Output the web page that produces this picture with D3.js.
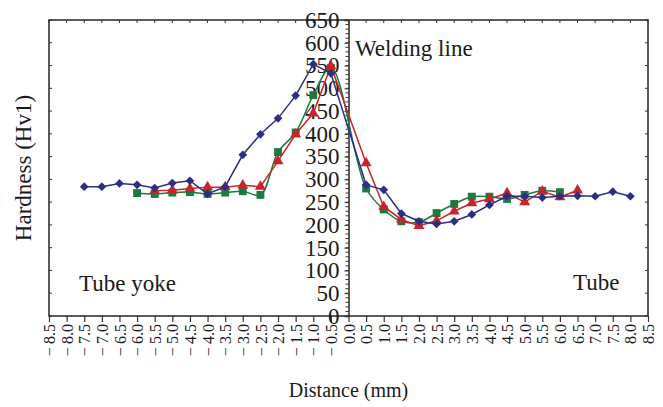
<!DOCTYPE html>
<html lang="en">
<head>
<meta charset="UTF-8">
<title>Hardness profile</title>
<style>
  body { margin: 0; background: #fff; }
  text { font-family: "Liberation Serif", "DejaVu Serif", serif; fill: #1a1a1a; }
</style>
</head>
<body>
<svg width="663" height="407"></svg>
<script src="https://cdn.jsdelivr.net/npm/d3@7"></script>
<script>
// distances (mm) and hardness values
var blueX = [-7.5,-7,-6.5,-6,-5.5,-5,-4.5,-4,-3.5,-3,-2.5,-2,-1.5,-1,-0.5,0.5,1,1.5,2,2.5,3,3.5,4,4.5,5,5.5,6,6.5,7,7.5,8];
var blueY = [284,284,291,288,281,292,297,268,284,354,399,434,484,553,533,288,277,225,208,202,208,223,244,263,263,260,263,264,263,273,263];

var redX = [-5.5,-5,-4.5,-4,-3.5,-3,-2.5,-2,-1.5,-1,-0.5,0.5,1,1.5,2,2.5,3,3.5,4,4.5,5,5.5,6,6.5];
var redY = [275,276,280,283,283,287,284,340,399,445,549,336,240,212,198,209,230,248,257,270,250,274,261,276];

var greenX = [-6,-5.5,-5,-4.5,-4,-3.5,-3,-2.5,-2,-1.5,-1,-0.5,0.5,1,1.5,2,2.5,3,3.5,4,4.5,5,5.5,6];
var greenY = [270,268,271,272,268,271,274,266,360,403,485,545,280,234,208,206,226,246,262,262,257,266,275,272];

var xTicks = d3.range(-8.5, 8.51, 0.5);
var yTicks = d3.range(0, 651, 50);

var svg = d3.select("svg");
var pLeft = 49, pRight = 648, pTop = 20, pBottom = 316;

var x = d3.scaleLinear().domain([-8.5, 8.5]).range([pLeft, pRight]);
var y = d3.scaleLinear().domain([0, 650]).range([pBottom, pTop]);

var ink = "#333";

// frame
svg.append("rect")
  .attr("x", pLeft).attr("y", pTop)
  .attr("width", pRight - pLeft).attr("height", pBottom - pTop)
  .attr("fill", "none").attr("stroke", ink).attr("stroke-width", 1.6);

// bottom axis
var xAxis = svg.append("g")
  .attr("transform", "translate(0," + pBottom + ")")
  .call(d3.axisBottom(x).tickValues(xTicks).tickSize(6).tickFormat(function (d) {
    var s = Math.abs(d).toFixed(1);
    return (d < -0.01 ? "\u2212\u2009" : "") + s;
  }));
xAxis.select(".domain").remove();
xAxis.selectAll("line").attr("stroke", ink).attr("stroke-width", 1.2);
xAxis.selectAll("text")
  .attr("font-family", "Liberation Serif")
  .attr("font-size", 16)
  .attr("fill", "#1a1a1a")
  .attr("text-anchor", "end")
  .attr("transform", "rotate(-90)")
  .attr("x", -8).attr("y", 0).attr("dy", "0.35em");

// top frame ticks
svg.append("g").selectAll("line").data(xTicks).join("line")
  .attr("x1", d => x(d)).attr("x2", d => x(d))
  .attr("y1", pTop).attr("y2", pTop + 3)
  .attr("stroke", ink).attr("stroke-width", 1);

// left / right frame ticks
svg.append("g").selectAll("line").data(yTicks).join("line")
  .attr("x1", pLeft).attr("x2", pLeft + 3)
  .attr("y1", d => y(d)).attr("y2", d => y(d))
  .attr("stroke", ink).attr("stroke-width", 1);
svg.append("g").selectAll("line").data(yTicks).join("line")
  .attr("x1", pRight - 3).attr("x2", pRight)
  .attr("y1", d => y(d)).attr("y2", d => y(d))
  .attr("stroke", ink).attr("stroke-width", 1);

// y axis at x = 0 with minor ticks
var x0 = x(0);
svg.append("g").selectAll("line").data(d3.range(0, 651, 10)).join("line")
  .attr("x1", x0 - 3).attr("x2", x0)
  .attr("y1", d => y(d)).attr("y2", d => y(d))
  .attr("stroke", ink).attr("stroke-width", 1);
var yAxis = svg.append("g")
  .attr("transform", "translate(" + x0 + ",0)")
  .call(d3.axisLeft(y).tickValues(yTicks).tickSize(4).tickPadding(5));
yAxis.select(".domain").attr("stroke", ink).attr("stroke-width", 1.6);
yAxis.selectAll("line").attr("stroke", ink);
yAxis.selectAll("text")
  .attr("font-family", "Liberation Serif")
  .attr("font-size", 23)
  .attr("fill", "#1a1a1a");

// series
var series = [
  { xs: greenX, ys: greenY, color: "#1b7a3e", symbol: d3.symbolSquare, size: 62, rot: 0, curve: d3.curveCatmullRom },
  { xs: redX, ys: redY, color: "#cc2229", symbol: d3.symbolTriangle, size: 52, rot: 0, curve: d3.curveLinear },
  { xs: blueX, ys: blueY, color: "#2b2e83", symbol: d3.symbolSquare, size: 38, rot: 45, curve: d3.curveLinear }
];

series.forEach(function (s) {
  var pts = s.xs.map(function (d, i) { return [d, s.ys[i]]; });
  var line = d3.line().x(d => x(d[0])).y(d => y(d[1])).curve(s.curve);
  svg.append("path")
    .attr("d", line(pts))
    .attr("fill", "none")
    .attr("stroke", s.color)
    .attr("stroke-width", 1.5);
  svg.append("g").selectAll("path").data(pts).join("path")
    .attr("transform", d => "translate(" + x(d[0]) + "," + y(d[1]) + ") rotate(" + s.rot + ")")
    .attr("d", d3.symbol().type(s.symbol).size(s.size))
    .attr("fill", s.color);
});

// annotations
svg.append("text").attr("x", 355).attr("y", 56).attr("font-size", 23).text("Welding line");
svg.append("text").attr("x", 79).attr("y", 291).attr("font-size", 23).text("Tube yoke");
svg.append("text").attr("x", 573).attr("y", 290).attr("font-size", 23).text("Tube");

// axis titles
svg.append("text")
  .attr("x", x0).attr("y", 397)
  .attr("text-anchor", "middle").attr("font-size", 20)
  .text("Distance (mm)");
svg.append("text")
  .attr("transform", "translate(31,168) rotate(-90)")
  .attr("text-anchor", "middle").attr("font-size", 23)
  .text("Hardness (Hv1)");
</script>
</body>
</html>
